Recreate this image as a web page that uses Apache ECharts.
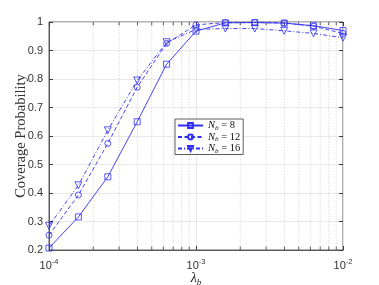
<!DOCTYPE html>
<html><head><meta charset="utf-8">
<script src="https://cdn.jsdelivr.net/npm/echarts@6/dist/echarts.min.js"></script>
<style>html,body{margin:0;padding:0;background:#fff}#c{width:379px;height:285px}</style>
</head><body><div id="c"></div>
<script>
const lambdaB = [1e-4, 1.585e-4, 2.512e-4, 3.981e-4, 6.31e-4, 1e-3, 1.585e-3, 2.512e-3, 3.981e-3, 6.31e-3, 1e-2];
const nb8  = [0.207, 0.316, 0.457, 0.650, 0.852, 0.968, 0.997, 0.998, 0.996, 0.987, 0.970];
const nb12 = [0.252, 0.393, 0.574, 0.771, 0.925, 0.990, 0.998, 0.998, 0.997, 0.985, 0.960];
const nb16 = [0.285, 0.427, 0.620, 0.795, 0.929, 0.974, 0.977, 0.977, 0.969, 0.960, 0.945];
const seriesNb = [8, 12, 16];
const minorX = [2e-4,3e-4,4e-4,5e-4,6e-4,7e-4,8e-4,9e-4,2e-3,3e-3,4e-3,5e-3,6e-3,7e-3,8e-3,9e-3];
const yTicks = {min: 0.2, max: 1, interval: 0.1};

const blue = '#2f2ff5';
const chart = echarts.init(document.getElementById('c'));
const pair = (arr) => lambdaB.map((x, i) => [x, arr[i]]);
const allData = [nb8, nb12, nb16];
const symbols = ['rect', 'circle', 'triangle'];
const rot = [0, 0, 180];
const dashes = ['solid', [4, 2.5], [4, 2, 1, 2]];
const series = allData.map((d, k) => ({
  name: 'Nb = ' + seriesNb[k],
  type: 'line',
  data: pair(d),
  symbol: symbols[k],
  symbolRotate: rot[k],
  symbolSize: k === 2 ? 7 : 6,
  showAllSymbol: true,
  itemStyle: {color: 'rgba(255,255,255,0)', borderColor: blue, borderWidth: 0.8},
  lineStyle: {color: blue, width: 0.9, type: dashes[k]},
  z: 5
}));
// minor vertical grid lines (2..9 x each decade), drawn through the log axis
const gridData = [];
minorX.forEach(v => { gridData.push([v, yTicks.min], [v, yTicks.max], [v, '-']); });
series.push({
  name: 'minorGrid', type: 'line', data: gridData, silent: true, z: 1,
  symbol: 'none', connectNulls: false,
  lineStyle: {color: '#d4d4d4', type: [1.5, 1.5], width: 0.8}
});
// minor ticks on bottom/top axes
const tickLen = 0.012;
const tickData = [];
minorX.forEach(v => {
  tickData.push([v, yTicks.min], [v, yTicks.min + tickLen], [v, '-']);
  tickData.push([v, yTicks.max], [v, yTicks.max - tickLen], [v, '-']);
});
series.push({
  name: 'minorTicks', type: 'line', data: tickData, silent: true, z: 2,
  symbol: 'none', connectNulls: false,
  lineStyle: {color: '#3a3a3a', width: 0.8}
});
const axisFont = {fontFamily: 'Liberation Sans, Arial', fontSize: 11, color: '#333'};
chart.setOption({
  animation: false,
  backgroundColor: '#fff',
  grid: {left: 49, right: 36, top: 22, bottom: 35, show: true, borderColor: '#3a3a3a', borderWidth: 0.8,
         containLabel: false, outerBoundsMode: 'none'},
  legend: {
    orient: 'vertical', left: 175, top: 119,
    backgroundColor: '#fff', borderColor: '#333', borderWidth: 0.8,
    padding: [1, 3, 0, 2], itemGap: 0, itemWidth: 25, itemHeight: 6,
    data: series.slice(0, 3).map(s => s.name),
    formatter: (name) => '{n|N}{s|b} = ' + name.split('= ')[1],
    textStyle: {fontFamily: 'Liberation Serif, serif', fontSize: 10.5, color: '#111', lineHeight: 11,
      rich: {n: {fontStyle: 'italic', fontFamily: 'Liberation Serif, serif', fontSize: 10.5},
             s: {fontStyle: 'italic', fontFamily: 'Liberation Serif, serif', fontSize: 7, padding: [5, 0, 0, 0]}}}
  },
  xAxis: [{
    type: 'log', logBase: 10, min: 1e-4, max: 1e-2,
    name: '{l|λ}{s|b}', nameLocation: 'middle', nameGap: 20, nameMoveOverlap: false,
    nameTextStyle: {rich: {l: {fontFamily: 'Liberation Serif, serif', fontSize: 14, fontStyle: 'italic', color: '#222'},
                           s: {fontFamily: 'Liberation Serif, serif', fontSize: 9, fontStyle: 'italic', color: '#222', padding: [8, 0, 0, 0]}}},
    axisLine: {lineStyle: {color: '#3a3a3a', width: 0.8}},
    axisTick: {inside: true, length: 4, lineStyle: {color: '#3a3a3a'}},
    splitLine: {show: true, lineStyle: {color: '#e2e2e2', width: 0.8}},
    axisLabel: {margin: 8, formatter: v => '10{s|' + Math.round(Math.log10(v)) + '}',
      ...axisFont, rich: {s: {fontSize: 7.5, fontFamily: 'Liberation Sans, Arial', color: '#333', padding: [0, 0, 7, 0]}}}
  }, {
    type: 'log', logBase: 10, min: 1e-4, max: 1e-2, position: 'top',
    axisLine: {show: false}, axisLabel: {show: false}, splitLine: {show: false},
    axisTick: {inside: true, length: 4, lineStyle: {color: '#3a3a3a'}}
  }],
  yAxis: [{
    type: 'value', min: yTicks.min, max: yTicks.max, interval: yTicks.interval,
    name: 'Coverage Probability', nameLocation: 'middle', nameGap: 20, nameMoveOverlap: false,
    nameTextStyle: {fontFamily: 'Liberation Serif, serif', fontSize: 14.5, color: '#333'},
    axisLine: {show: true, lineStyle: {color: '#3a3a3a', width: 0.8}},
    axisTick: {show: true, inside: true, length: 4, lineStyle: {color: '#3a3a3a'}},
    splitLine: {show: true, lineStyle: {color: '#e2e2e2', width: 0.8}},
    axisLabel: {margin: 6, ...axisFont}
  }, {
    type: 'value', min: yTicks.min, max: yTicks.max, interval: yTicks.interval, position: 'right',
    axisLine: {show: false}, axisLabel: {show: false}, splitLine: {show: false},
    axisTick: {show: true, inside: true, length: 4, lineStyle: {color: '#3a3a3a'}}
  }],
  series: series
});
</script></body></html>
